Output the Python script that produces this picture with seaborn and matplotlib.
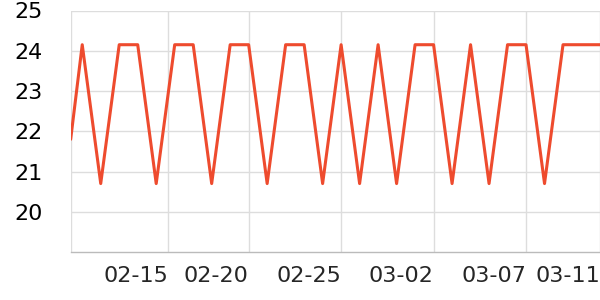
import matplotlib
matplotlib.use("Agg")
import matplotlib.pyplot as plt
import seaborn as sns
import pandas as pd

# Data
times = ["2026-02-10 09:00", "2026-02-11", "2026-02-12", "2026-02-13", "2026-02-14",
         "2026-02-15", "2026-02-16", "2026-02-17", "2026-02-18", "2026-02-19",
         "2026-02-20", "2026-02-21", "2026-02-22", "2026-02-23", "2026-02-24",
         "2026-02-25", "2026-02-26", "2026-02-27", "2026-02-28", "2026-03-01",
         "2026-03-02", "2026-03-03", "2026-03-04", "2026-03-05", "2026-03-06",
         "2026-03-07", "2026-03-08", "2026-03-09", "2026-03-10", "2026-03-11"]
values = [21.8, 24.15, 20.7, 24.15, 24.15,
          20.7, 24.15, 24.15, 20.7, 24.15,
          24.15, 20.7, 24.15, 24.15, 20.7,
          24.15, 20.7, 24.15, 20.7, 24.15,
          24.15, 20.7, 24.15, 20.7, 24.15,
          24.15, 20.7, 24.15, 24.15, 24.15]
tick_times = ["2026-02-15 15:36", "2026-02-20", "2026-02-25", "2026-03-02", "2026-03-07", "2026-03-11"]
tick_labels = ["02-15", "02-20", "02-25", "03-02", "03-07", "03-11"]
y_ticks = [20, 21, 22, 23, 24, 25]

df = pd.DataFrame({"time": pd.to_datetime(times, format="mixed"), "value": values})

sns.set_style("white")
plt.rcParams["font.family"] = ["DejaVu Sans"]

fig = plt.figure(figsize=(6, 3), dpi=100)
ax = fig.add_axes([0.1178, 0.16, 1.0 - 0.1178, 0.965 - 0.16])

sns.lineplot(data=df, x="time", y="value", ax=ax, color="#EE4B2E", linewidth=2.2)

xmin = df["time"].iloc[0]
xmax = df["time"].iloc[-1]
ax.set_xlim(xmin, xmax)
ax.set_ylim(19, 25)

xt = [xmin] + list(pd.to_datetime(tick_times, format="mixed"))
ax.set_xticks(xt)
ax.set_xticklabels([""] + tick_labels, ha="right")
ax.set_yticks(y_ticks)
ax.set_yticklabels([str(v) for v in y_ticks])

ax.grid(True, color="#dddddd", linewidth=1.0)
ax.set_axisbelow(True)
for s in ["top", "right", "left"]:
    ax.spines[s].set_visible(False)
ax.spines["bottom"].set_color("#bbbbbb")
ax.spines["bottom"].set_linewidth(1.0)

ax.tick_params(axis="y", length=0, pad=20, labelsize=16, colors="black")
ax.tick_params(axis="x", length=3, width=1, color="#bbbbbb", pad=7, labelsize=16)
ax.set_xlabel("")
ax.set_ylabel("")

fig.savefig("out.png", dpi=100)
